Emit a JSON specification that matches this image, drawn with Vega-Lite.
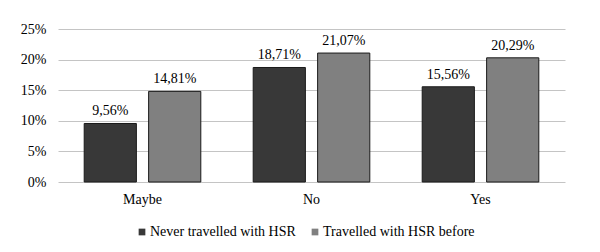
{
  "$schema": "https://vega.github.io/schema/vega-lite/v6.json",
  "autosize": "none",
  "width": 507,
  "height": 153,
  "padding": {"left": 58, "top": 29, "right": 35, "bottom": 70},
  "background": "white",
  "config": {
    "font": "DejaVu Serif",
    "view": {"stroke": null},
    "locale": {"number": {"decimal": ",", "thousands": ".", "grouping": [3], "currency": ["", "€"]}},
    "axis": {"labelFont": "serif", "labelFontSize": 14, "labelColor": "#000"}
  },
  "data": {
    "values": [
      {"answer": "Maybe", "group": "Never travelled with HSR", "share": 0.0956},
      {"answer": "Maybe", "group": "Travelled with HSR before", "share": 0.1481},
      {"answer": "No", "group": "Never travelled with HSR", "share": 0.1871},
      {"answer": "No", "group": "Travelled with HSR before", "share": 0.2107},
      {"answer": "Yes", "group": "Never travelled with HSR", "share": 0.1556},
      {"answer": "Yes", "group": "Travelled with HSR before", "share": 0.2029}
    ]
  },
  "encoding": {
    "x": {
      "field": "answer", "type": "nominal", "sort": ["Maybe", "No", "Yes"],
      "scale": {"paddingInner": 0.31, "paddingOuter": 0.155},
      "axis": {"title": null, "labelAngle": 0, "ticks": false, "domain": false, "labelPadding": 10}
    },
    "xOffset": {
      "field": "group", "type": "nominal",
      "scale": {"paddingInner": 0.19, "paddingOuter": 0}
    },
    "y": {
      "field": "share", "type": "quantitative",
      "scale": {"domain": [0, 0.25]},
      "axis": {"title": null, "format": ".0%", "values": [0, 0.05, 0.1, 0.15, 0.2, 0.25], "ticks": false, "domain": false, "labelPadding": 12, "gridColor": "#c4c4c4", "gridWidth": 1}
    }
  },
  "layer": [
    {
      "mark": {"type": "bar", "stroke": "#1a1a1a", "strokeWidth": 1},
      "encoding": {
        "color": {
          "field": "group", "type": "nominal",
          "scale": {"range": ["#383838", "#808080"]},
          "legend": {
            "title": null, "orient": "none", "direction": "horizontal",
            "legendX": 77, "legendY": 196,
            "symbolType": "square", "symbolSize": 45, "symbolStrokeWidth": 0,
            "labelFont": "Liberation Serif", "labelFontSize": 14, "labelColor": "#000",
            "columnPadding": 12, "labelOffset": 1
          }
        }
      }
    },
    {
      "mark": {"type": "text", "baseline": "bottom", "dy": -5, "fontSize": 14, "font": "Liberation Serif", "color": "#000"},
      "encoding": {
        "text": {"field": "share", "type": "quantitative", "format": ".2%"}
      }
    }
  ]
}
